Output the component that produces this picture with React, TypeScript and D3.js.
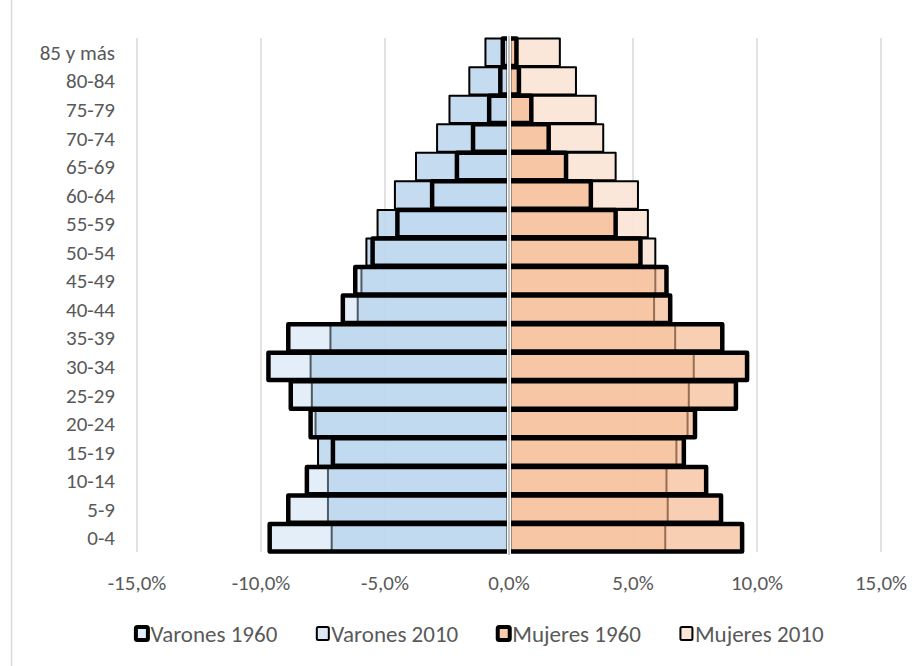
import React, { useEffect, useRef } from 'react';
import * as d3 from 'd3';

/* ── data (share of each sex, %) ── bottom → top */
const ageGroups = ['0-4', '5-9', '10-14', '15-19', '20-24', '25-29', '30-34', '35-39', '40-44',
  '45-49', '50-54', '55-59', '60-64', '65-69', '70-74', '75-79', '80-84', '85 y más'];
const varones1960 = [9.65, 8.9, 8.15, 7.1, 8.0, 8.8, 9.7, 8.9, 6.7, 6.2, 5.5, 4.5, 3.1, 2.1, 1.45, 0.8, 0.35, 0.25];
const varones2010 = [7.15, 7.3, 7.3, 7.7, 7.8, 7.95, 8.0, 7.2, 6.1, 5.95, 5.75, 5.3, 4.6, 3.75, 2.9, 2.4, 1.6, 0.95];
const mujeres1960 = [9.4, 8.55, 7.95, 7.05, 7.5, 9.15, 9.6, 8.6, 6.5, 6.35, 5.3, 4.3, 3.3, 2.3, 1.6, 0.9, 0.4, 0.3];
const mujeres2010 = [6.3, 6.4, 6.35, 6.75, 7.2, 7.25, 7.45, 6.7, 5.85, 5.9, 5.9, 5.6, 5.2, 4.3, 3.8, 3.5, 2.7, 2.05];
const xTicks = [-15, -10, -5, 0, 5, 10, 15];
const legendLabels = ['Varones 1960', 'Varones 2010', 'Mujeres 1960', 'Mujeres 2010'];

const W = 922, H = 666;
const M = { t: 38, r: 41, b: 114, l: 137 };
const FONT = 'Carlito, Calibri, Lato, sans-serif';
const TXT = '#595959';

/* bar looks */
const styles = {
  v2010: { fill: '#bdd7ee', op: 0.88, sw: 2 },
  m2010: { fill: '#fbe5d6', op: 0.92, sw: 2 },
  v1960: { fill: '#bdd7ee', op: 0.42, sw: 4.5 },
  m1960: { fill: '#f4b183', op: 0.62, sw: 4.5 },
};

export default function App() {
  const ref = useRef<SVGSVGElement>(null);

  useEffect(() => {
    const svg = d3.select(ref.current);
    svg.selectAll('*').remove();

    const x = d3.scaleLinear().domain([-15, 15]).range([M.l, W - M.r]);
    const y = d3.scaleBand<string>()
      .domain(ageGroups.slice().reverse())
      .range([M.t, H - M.b])
      .paddingInner(0.04)
      .paddingOuter(0.02);

    /* chart frame (left edge visible) */
    svg.append('line')
      .attr('x1', 11.5).attr('x2', 11.5).attr('y1', 0).attr('y2', H)
      .attr('stroke', '#d9d9d9').attr('stroke-width', 1.5);

    /* grid */
    svg.append('g').selectAll('line').data(xTicks.filter(t => t !== 0)).join('line')
      .attr('x1', d => x(d)).attr('x2', d => x(d))
      .attr('y1', M.t).attr('y2', H - M.b)
      .attr('stroke', '#d9d9d9').attr('stroke-width', 1.5);

    const drawBars = (vals: number[], sign: number, st: { fill: string; op: number; sw: number }) => {
      svg.append('g').selectAll('rect').data(vals).join('rect')
        .attr('x', d => Math.min(x(0), x(sign * d)))
        .attr('width', d => Math.abs(x(sign * d) - x(0)))
        .attr('y', (_, i) => y(ageGroups[i])!)
        .attr('height', y.bandwidth())
        .attr('fill', st.fill)
        .attr('fill-opacity', st.op)
        .attr('stroke', '#000')
        .attr('stroke-width', st.sw)
        .attr('stroke-linejoin', 'round');
    };

    drawBars(varones2010, -1, styles.v2010);
    drawBars(mujeres2010, 1, styles.m2010);
    drawBars(varones1960, -1, styles.v1960);
    drawBars(mujeres1960, 1, styles.m1960);

    /* zero axis */
    svg.append('line')
      .attr('x1', x(0)).attr('x2', x(0)).attr('y1', M.t - 2).attr('y2', H - M.b + 3)
      .attr('stroke', '#fff').attr('stroke-width', 4);
    svg.append('line')
      .attr('x1', x(0)).attr('x2', x(0)).attr('y1', M.t - 2).attr('y2', H - M.b + 3)
      .attr('stroke', '#9a9a9a').attr('stroke-width', 1.2);

    /* category labels */
    svg.append('g').selectAll('text').data(ageGroups).join('text')
      .attr('x', 115)
      .attr('y', d => y(d)! + y.bandwidth() / 2)
      .attr('dy', '0.36em')
      .attr('text-anchor', 'end')
      .attr('font-family', FONT).attr('font-size', 21).attr('fill', TXT)
      .text(d => d);

    /* x tick labels */
    const fmt = (v: number) => d3.format('.1f')(v).replace('.', ',').replace('−', '-') + '%';
    svg.append('g').selectAll('text').data(xTicks).join('text')
      .attr('x', d => x(d))
      .attr('y', 582)
      .attr('dy', '0.36em')
      .attr('text-anchor', 'middle')
      .attr('font-family', FONT).attr('font-size', 21).attr('fill', TXT)
      .text(d => fmt(d));

    /* legend */
    const legSt = [
      { fill: '#e4eef8', sw: 4 },
      { fill: '#dce9f5', sw: 2 },
      { fill: '#f8cbad', sw: 4 },
      { fill: '#fbe5d6', sw: 2 },
    ];
    const leg = svg.append('g');
    const items = legendLabels.map((lab, i) => {
      const g = leg.append('g');
      g.append('rect')
        .attr('x', 1.5).attr('y', -7).attr('width', 12).attr('height', 13)
        .attr('rx', 1.5)
        .attr('fill', legSt[i].fill)
        .attr('stroke', '#000').attr('stroke-width', legSt[i].sw);
      const t = g.append('text')
        .attr('x', 16).attr('dy', '0.36em')
        .attr('font-family', FONT).attr('font-size', 23).attr('fill', TXT)
        .text(lab);
      const w = 16 + (t.node() as SVGTextElement).getComputedTextLength();
      return { g, w };
    });
    const gap = 38;
    const total = d3.sum(items, d => d.w) + gap * (items.length - 1);
    let cx = 479 - total / 2;
    items.forEach(it => {
      it.g.attr('transform', `translate(${cx},634)`);
      cx += it.w + gap;
    });
  }, []);

  return (
    <svg
      ref={ref}
      width={W}
      height={H}
      style={{ position: 'absolute', left: 0, top: 0, background: '#fff' }}
    />
  );
}
